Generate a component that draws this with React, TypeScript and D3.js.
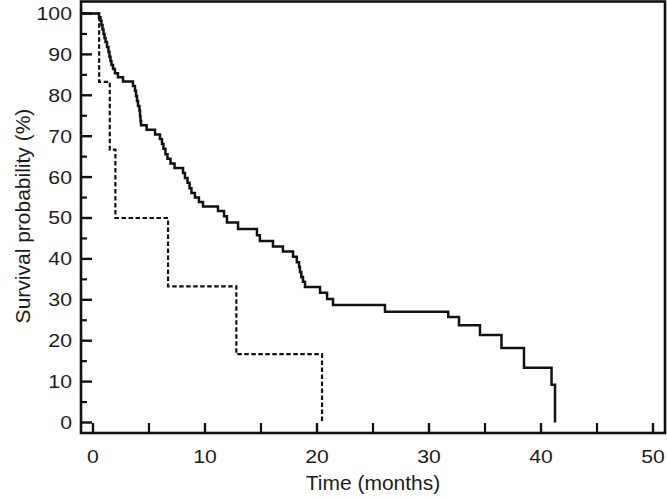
import React from "react";
import * as d3 from "d3";

// Kaplan–Meier steps: time (months) and survival (%) after each drop
const solidTimes = [0.54, 0.67, 0.76, 0.85, 0.94, 1.03, 1.12, 1.25, 1.38, 1.47, 1.56, 1.65, 1.79, 1.96, 2.23, 2.68,
  3.57, 3.75, 3.84, 3.93, 4.02, 4.15, 4.2, 4.24, 4.29, 4.79, 5.54, 5.98, 6.16, 6.29, 6.47, 6.65, 6.92, 7.28,
  8.04, 8.21, 8.44, 8.62, 8.79, 9.1, 9.46, 9.82, 11.16, 11.7, 11.96, 12.95, 14.64, 14.9, 16.07, 16.96, 17.86,
  18.2, 18.4, 18.48, 18.6, 18.75, 18.93, 20.27, 20.9, 21.43, 26.07, 31.72, 32.68, 34.55, 36.47, 38.48, 40.94, 41.25];
const solidSurv = [99.1, 98.2, 97.2, 96.1, 95.0, 94.0, 93.0, 91.8, 90.6, 89.4, 88.4, 87.4, 86.4, 85.4, 84.4, 83.4,
  82.3, 81.1, 79.8, 78.6, 77.4, 76.2, 74.9, 73.7, 72.7, 71.6, 70.4, 69.3, 68.1, 66.9, 65.6, 64.5, 63.3, 62.2,
  61.0, 59.8, 58.6, 57.3, 56.1, 55.0, 53.9, 52.8, 51.7, 50.4, 48.9, 47.3, 45.8, 44.4, 43.0, 41.8, 40.5,
  39.2, 38.0, 36.8, 35.6, 34.4, 33.1, 31.7, 30.2, 28.7, 27.1, 25.8, 23.8, 21.4, 18.2, 13.4, 9.2, 0];

const dashedTimes = [0.55, 1.5, 2.0, 6.7, 12.8, 20.45];
const dashedSurv = [83.3, 66.7, 50, 33.3, 16.7, 0];

const xMajorTicks = [0, 10, 20, 30, 40, 50];
const xMinorTicks = [5, 15, 25, 35, 45];
const yMajorTicks = [0, 10, 20, 30, 40, 50, 60, 70, 80, 90, 100];
const yMinorTicks = [5, 15, 25, 35, 45, 55, 65, 75, 85, 95];

const xTitle = "Time (months)";
const yTitle = "Survival probability (%)";

const W = 667, H = 497;
const left = 81, right = 665, top = 1.5, bottom = 433;
const FONT = "'Liberation Sans', Arial, Helvetica, sans-serif";

export default function App() {
  const x = d3.scaleLinear().domain([-1.07, 51.07]).range([left, right]);
  const y = d3.scaleLinear().domain([-2.567, 102.93]).range([bottom, top]);

  const stepLine = d3.line<[number, number]>()
    .x(d => x(d[0]))
    .y(d => y(d[1]))
    .curve(d3.curveStepAfter);

  const start: [number, number] = [x.domain()[0], 100];
  const solidPts: [number, number][] = [start, ...solidTimes.map((t, i) => [t, solidSurv[i]] as [number, number])];
  const dashedPts: [number, number][] = [start, ...dashedTimes.map((t, i) => [t, dashedSurv[i]] as [number, number])];

  const tickFs = 18;
  return (
    <svg width={W} height={H} style={{ position: "absolute", left: 0, top: 0, background: "#fff" }}>
      <rect x={0} y={0} width={W} height={H} fill="#fff" />
      {/* curves */}
      <path d={stepLine(dashedPts) || ""} fill="none" stroke="#111" strokeWidth={2.2} strokeDasharray="4.5,2.5" />
      <path d={stepLine(solidPts) || ""} fill="none" stroke="#111" strokeWidth={2.5} />
      {/* frame */}
      <rect x={left} y={top} width={right - left} height={bottom - top} fill="none" stroke="#111" strokeWidth={2.6} />
      {/* y ticks */}
      {yMajorTicks.map(v => (
        <g key={"ym" + v}>
          <line x1={left} x2={left + 11} y1={y(v)} y2={y(v)} stroke="#111" strokeWidth={2.4} />
          <text x={72} y={y(v)} dy="0.36em" textAnchor="end" fontFamily={FONT} fontSize={tickFs}
            fill="#1c1c1c" transform={`translate(72,0) scale(1.18,1) translate(-72,0)`}>{v}</text>
        </g>
      ))}
      {yMinorTicks.map(v => (
        <line key={"yn" + v} x1={left} x2={left + 6} y1={y(v)} y2={y(v)} stroke="#111" strokeWidth={2.2} />
      ))}
      {/* x ticks */}
      {xMajorTicks.map(t => (
        <g key={"xm" + t}>
          <line x1={x(t)} x2={x(t)} y1={bottom} y2={bottom - 10} stroke="#111" strokeWidth={2.4} />
          <text x={x(t)} y={463} textAnchor="middle" fontFamily={FONT} fontSize={tickFs} fill="#1c1c1c"
            transform={`translate(${x(t)},0) scale(1.18,1) translate(${-x(t)},0)`}>{t}</text>
        </g>
      ))}
      {xMinorTicks.map(t => (
        <line key={"xn" + t} x1={x(t)} x2={x(t)} y1={bottom} y2={bottom - 10} stroke="#111" strokeWidth={2.2} />
      ))}
      {/* titles */}
      <text x={(x(0) + x(50)) / 2} y={490} textAnchor="middle" fontFamily={FONT} fontSize={21} fill="#1c1c1c">{xTitle}</text>
      <text transform={`translate(30,${216}) rotate(-90)`} textAnchor="middle" fontFamily={FONT} fontSize={21} fill="#1c1c1c">{yTitle}</text>
    </svg>
  );
}
